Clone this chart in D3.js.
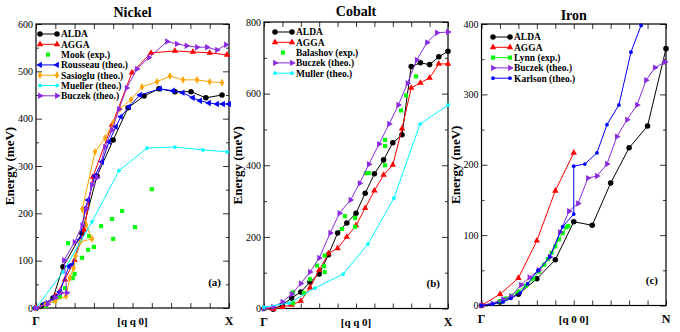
<!DOCTYPE html>
<html>
<head>
<meta charset="utf-8">
<script src="https://cdn.jsdelivr.net/npm/d3@7"></script>
<style>
  body { margin: 0; background: #fff; }
  svg text { font-family: "Liberation Serif", "DejaVu Serif", serif; }
</style>
</head>
<body>
<svg id="canvas" width="680" height="332"></svg>
<script>
// ---------- Nickel ----------
const niAldaQ = [0, 0.036, 0.088, 0.14, 0.238, 0.316, 0.4, 0.477, 0.56, 0.637, 0.72, 0.803, 0.88, 0.964]
const niAldaE = [0, 6, 21, 87, 158, 279, 355, 423, 448, 463, 457, 457, 444, 450]
const niAggaQ = [0, 0.05, 0.1, 0.15, 0.2, 0.25, 0.295, 0.394, 0.497, 0.596, 0.72, 0.813, 0.9, 0.99]
const niAggaE = [0, 8, 25, 60, 101, 165, 277, 387, 497, 539, 543, 541, 539, 535]
const niMookQ = [0.052, 0.098, 0.124, 0.15, 0.19, 0.2, 0.166, 0.238, 0.27, 0.3, 0.275, 0.337, 0.394, 0.4, 0.446, 0.513, 0.6]
const niMookE = [4, 15, 23, 42, 63, 72, 137, 106, 123, 129, 152, 173, 188, 146, 205, 171, 251]
const niRousQ = [0, 0.047, 0.1, 0.124, 0.17, 0.19, 0.228, 0.254, 0.27, 0.305, 0.342, 0.378, 0.414, 0.44, 0.482, 0.539, 0.642, 0.71, 0.76, 0.813, 0.85, 0.896, 0.938, 0.969, 1.0]
const niRousE = [0, 10, 23, 34, 88, 92, 144, 210, 228, 279, 309, 351, 383, 404, 425, 450, 463, 459, 455, 444, 438, 433, 431, 431, 431]
const niSasQ = [0, 0.05, 0.1, 0.155, 0.175, 0.195, 0.205, 0.23, 0.29, 0.26, 0.24, 0.306, 0.358, 0.4, 0.435, 0.492, 0.549, 0.627, 0.694, 0.762, 0.834, 0.9, 0.964]
const niSasE = [0, 8, 15, 25, 63, 84, 110, 140, 146, 176, 209, 330, 359, 391, 421, 440, 467, 478, 490, 482, 482, 478, 476]
const niMuelQ = [0, 0.14, 0.29, 0.43, 0.575, 0.72, 0.865, 0.99]
const niMuelE = [0, 76, 182, 290, 338, 340, 334, 330]
const niBucQ = [0, 0.06, 0.1, 0.13, 0.16, 0.145, 0.2, 0.24, 0.26, 0.29, 0.316, 0.358, 0.394, 0.43, 0.47, 0.523, 0.585, 0.679, 0.73, 0.78, 0.834, 0.886, 0.938, 0.984]
const niBucE = [0, 8, 22, 32, 32, 101, 139, 175, 210, 260, 275, 340, 376, 420, 465, 505, 529, 563, 558, 554, 551, 551, 545, 556]

// ---------- Cobalt ----------
const coAldaQ = [0, 0.05, 0.1, 0.15, 0.2, 0.25, 0.3, 0.35, 0.4, 0.45, 0.5, 0.55, 0.6, 0.65, 0.7, 0.75, 0.8, 0.85, 0.9, 0.95, 1.0]
const coAldaE = [0, -2, 10, 29, 46, 74, 96, 150, 211, 239, 266, 322, 376, 415, 463, 485, 676, 686, 681, 703, 718]
const coAggaQ = [0, 0.05, 0.1, 0.15, 0.2, 0.25, 0.3, 0.35, 0.4, 0.45, 0.5, 0.55, 0.6, 0.65, 0.7, 0.75, 0.8, 0.85, 0.9, 0.95, 1.0]
const coAggaE = [0, -2, 4, 10, 21, 58, 107, 154, 168, 200, 232, 280, 329, 373, 401, 502, 616, 630, 644, 683, 683]
const coBalQ = [0, 0.158, 0.158, 0.217, 0.25, 0.288, 0.326, 0.33, 0.33, 0.424, 0.44, 0.495, 0.495, 0.554, 0.57, 0.658, 0.658, 0.658, 0.745, 0.772, 0.826]
const coBalE = [0, 15, 45, 43, 82, 120, 118, 102, 148, 222, 258, 253, 228, 378, 378, 400, 454, 471, 553, 595, 648]
const coBucQ = [0, 0.05, 0.1, 0.15, 0.2, 0.25, 0.3, 0.36, 0.41, 0.47, 0.52, 0.57, 0.625, 0.68, 0.73, 0.78, 0.83, 0.886, 0.94, 1.0]
const coBucE = [0, 4, 18, 40, 70, 102, 141, 211, 266, 303, 350, 403, 459, 515, 568, 629, 694, 743, 770, 772]
const coMulQ = [0, 0.136, 0.277, 0.43, 0.565, 0.706, 0.848, 1.0]
const coMulE = [4, 15, 57, 96, 180, 308, 515, 568]

// ---------- Iron ----------
const feAldaQ = [0, 0.1, 0.2, 0.3, 0.4, 0.5, 0.6, 0.7, 0.8, 0.9, 1.0]
const feAldaE = [0, 5, 16, 38, 65, 119, 114, 174, 224, 255, 365]
const feAggaQ = [0, 0.1, 0.2, 0.3, 0.4, 0.5]
const feAggaE = [0, 16, 39, 92, 163, 217]
const feLynnQ = [0.1, 0.13, 0.16, 0.2, 0.24, 0.28, 0.31, 0.34, 0.36, 0.38, 0.4, 0.42, 0.44, 0.46, 0.47]
const feLynnE = [6, 10, 14, 20, 28, 38, 48, 58, 66, 75, 84, 94, 103, 111, 113]
const feBucQ = [0, 0.06, 0.117, 0.16, 0.214, 0.26, 0.31, 0.37, 0.425, 0.474, 0.523, 0.577, 0.626, 0.68, 0.734, 0.789, 0.843, 0.892, 0.94, 0.995]
const feBucE = [0, 3, 9, 13, 29, 40, 50, 69, 104, 134, 145, 181, 184, 201, 240, 264, 285, 320, 338, 346]
const feKarQ = [0, 0.06, 0.117, 0.16, 0.21, 0.25, 0.306, 0.37, 0.44, 0.5, 0.5, 0.56, 0.626, 0.68, 0.745, 0.81, 0.865]
const feKarE = [0, 2, 5, 10, 18, 31, 50, 69, 112, 130, 198, 201, 217, 257, 285, 360, 398]

const panels = [
  {
    title: 'Nickel', tag: '(a)', path: '[q q 0]', end: 'X',
    x0: 36, x1: 229, yTop: 24, yBot: 308, yMax: 600, major: 100, minor: 50,
    titleY: 17, legY: 34, legX: 40,
    series: [
      {name: 'ALDA', q: niAldaQ, e: niAldaE, color: '#000', sym: 'circle'},
      {name: 'AGGA', q: niAggaQ, e: niAggaE, color: '#ff0000', sym: 'up'},
      {name: 'Mook (exp.)', q: niMookQ, e: niMookE, color: '#00ff00', sym: 'square', noLine: true},
      {name: 'Rousseau (theo.)', q: niRousQ, e: niRousE, color: '#0000ff', sym: 'left'},
      {name: 'Sasioglu (theo.)', q: niSasQ, e: niSasE, color: '#ffa500', sym: 'diamond'},
      {name: 'Mueller (theo.)', q: niMuelQ, e: niMuelE, color: '#00ffff', sym: 'dot'},
      {name: 'Buczek (theo.)', q: niBucQ, e: niBucE, color: '#8a2be2', sym: 'right'}
    ]
  },
  {
    title: 'Cobalt', tag: '(b)', path: '[q q 0]', end: 'X',
    x0: 264, x1: 448, yTop: 22, yBot: 308.5, yMax: 800, major: 200, minor: 100,
    titleY: 16, legY: 32, legX: 275,
    series: [
      {name: 'ALDA', q: coAldaQ, e: coAldaE, color: '#000', sym: 'circle'},
      {name: 'AGGA', q: coAggaQ, e: coAggaE, color: '#ff0000', sym: 'up'},
      {name: 'Balashov (exp.)', q: coBalQ, e: coBalE, color: '#00ff00', sym: 'square', noLine: true},
      {name: 'Buczek (theo.)', q: coBucQ, e: coBucE, color: '#8a2be2', sym: 'right'},
      {name: 'Muller (theo.)', q: coMulQ, e: coMulE, color: '#00ffff', sym: 'dot'}
    ]
  },
  {
    title: 'Iron', tag: '(c)', path: '[q 0 0]', end: 'N',
    x0: 481.5, x1: 666, yTop: 24, yBot: 305.5, yMax: 400, major: 100, minor: 50,
    titleY: 20, legY: 37, legX: 493,
    series: [
      {name: 'ALDA', q: feAldaQ, e: feAldaE, color: '#000', sym: 'circle'},
      {name: 'AGGA', q: feAggaQ, e: feAggaE, color: '#ff0000', sym: 'up'},
      {name: 'Lynn (exp.)', q: feLynnQ, e: feLynnE, color: '#00ff00', sym: 'square'},
      {name: 'Buczek (theo.)', q: feBucQ, e: feBucE, color: '#8a2be2', sym: 'right'},
      {name: 'Karlson (theo.)', q: feKarQ, e: feKarE, color: '#0000ff', sym: 'dot'}
    ]
  }
]

let canvas = d3.select('#canvas')

let symbolPath = (sym) => {
  let gen = d3.symbol()
  if (sym === 'circle') return gen.type(d3.symbolCircle).size(24)()
  if (sym === 'dot') return gen.type(d3.symbolCircle).size(11)()
  if (sym === 'square') return gen.type(d3.symbolSquare).size(17)()
  if (sym === 'diamond') return gen.type(d3.symbolDiamond).size(17)()
  return gen.type(d3.symbolTriangle).size(18)()
}
let symbolRotate = (sym) => {
  if (sym === 'right') return 90
  if (sym === 'left') return -90
  return 0
}

let drawMarker = (g, sym, color, x, y) => {
  g.append('path')
    .attr('d', symbolPath(sym))
    .attr('fill', color)
    .attr('transform', 'translate(' + x + ',' + y + ') rotate(' + symbolRotate(sym) + ')')
}

let drawPanel = (p) => {
  let x = d3.scaleLinear().domain([0, 1]).range([p.x0, p.x1])
  let y = d3.scaleLinear().domain([0, p.yMax]).range([p.yBot, p.yTop])

  let g = canvas.append('g')

  let majors = d3.range(0, p.yMax + 1, p.major)
  let minors = d3.range(0, p.yMax + 1, p.minor).filter(v => v % p.major !== 0)
  let xt = d3.range(0, 11).map(i => i / 10)

  // axes with inward ticks
  g.append('g').attr('transform', 'translate(' + p.x0 + ',0)')
    .call(d3.axisLeft(y).tickValues(majors).tickSize(-6).tickPadding(3).tickFormat(d3.format('d')))
  g.append('g').attr('transform', 'translate(' + p.x0 + ',0)')
    .call(d3.axisLeft(y).tickValues(minors).tickSize(-3).tickFormat(''))
  g.append('g').attr('transform', 'translate(' + p.x1 + ',0)')
    .call(d3.axisRight(y).tickValues(majors).tickSize(-6).tickFormat(''))
  g.append('g').attr('transform', 'translate(' + p.x1 + ',0)')
    .call(d3.axisRight(y).tickValues(minors).tickSize(-3).tickFormat(''))
  g.append('g').attr('transform', 'translate(0,' + p.yBot + ')')
    .call(d3.axisBottom(x).tickValues(xt).tickSize(-5).tickFormat(''))
  g.append('g').attr('transform', 'translate(0,' + p.yTop + ')')
    .call(d3.axisTop(x).tickValues(xt).tickSize(-5).tickFormat(''))

  g.selectAll('.domain').remove()
  g.selectAll('.tick line').attr('stroke', '#000').attr('stroke-width', 0.8)
  g.selectAll('.tick text').attr('font-size', 10).attr('fill', '#000')
    .style('font-family', '"Liberation Serif", serif')

  g.append('rect')
    .attr('x', p.x0).attr('y', p.yTop)
    .attr('width', p.x1 - p.x0).attr('height', p.yBot - p.yTop)
    .attr('fill', 'none').attr('stroke', '#000').attr('stroke-width', 1.2)

  // series
  let line = d3.line().x(d => x(d[0])).y(d => y(d[1]))
  p.series.forEach(s => {
    let pts = s.q.map((q, i) => [q, s.e[i]])
    if (!s.noLine) {
      g.append('path')
        .datum(pts)
        .attr('d', line)
        .attr('fill', 'none')
        .attr('stroke', s.color)
        .attr('stroke-width', 1)
    }
    pts.forEach(d => drawMarker(g, s.sym, s.color, x(d[0]), y(d[1])))
  })

  // legend
  p.series.forEach((s, i) => {
    let ly = p.legY + i * 10.3
    if (!s.noLine) {
      g.append('line')
        .attr('x1', p.legX).attr('x2', p.legX + 17)
        .attr('y1', ly).attr('y2', ly)
        .attr('stroke', s.color).attr('stroke-width', 1)
      drawMarker(g, s.sym, s.color, p.legX, ly)
    }
    drawMarker(g, s.sym, s.color, p.legX + 17 - (s.noLine ? 9 : 0), ly)
    g.append('text')
      .attr('x', p.legX + 21).attr('y', ly + 3.3)
      .attr('font-size', 9.5).attr('font-weight', 'bold')
      .text(s.name)
  })

  // titles and labels
  g.append('text')
    .attr('x', (p.x0 + p.x1) / 2).attr('y', p.titleY)
    .attr('text-anchor', 'middle').attr('font-size', 14).attr('font-weight', 'bold')
    .text(p.title)

  g.append('text')
    .attr('transform', 'translate(' + (p.x0 - 22) + ',' + ((p.yTop + p.yBot) / 2) + ') rotate(-90)')
    .attr('text-anchor', 'middle').attr('font-size', 13).attr('font-weight', 'bold')
    .text('Energy (meV)')

  let labY = p.yBot + 17
  g.append('text').attr('x', p.x0).attr('y', labY)
    .attr('text-anchor', 'middle').attr('font-size', 12).attr('font-weight', 'bold').text('Γ')
  g.append('text').attr('x', (p.x0 + p.x1) / 2).attr('y', labY)
    .attr('text-anchor', 'middle').attr('font-size', 11).attr('font-weight', 'bold').text(p.path)
  g.append('text').attr('x', p.x1).attr('y', labY)
    .attr('text-anchor', 'middle').attr('font-size', 12).attr('font-weight', 'bold').text(p.end)

  g.append('text')
    .attr('x', p.x1 - 8).attr('y', p.yBot - 22)
    .attr('text-anchor', 'end').attr('font-size', 11).attr('font-weight', 'bold')
    .text(p.tag)
}

panels.forEach(p => drawPanel(p))
</script>
</body>
</html>
